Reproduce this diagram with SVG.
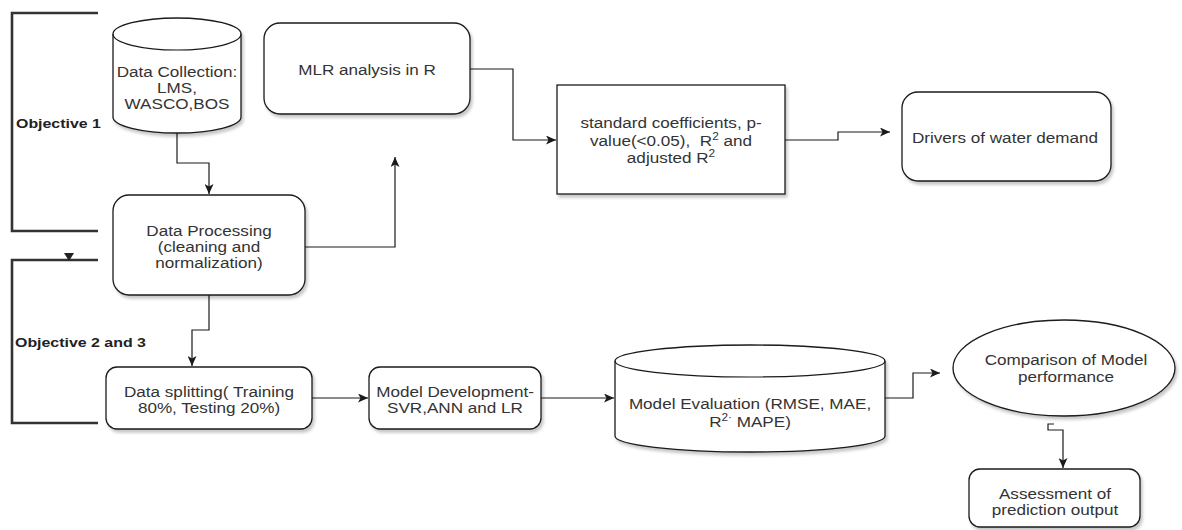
<svg xmlns="http://www.w3.org/2000/svg" width="1182" height="530" viewBox="0 0 1182 530">
<style>
  .shape { fill: #ffffff; stroke: #1a1a1a; stroke-width: 1.3; filter: url(#shadow); }
  .edge { fill: none; stroke: #1a1a1a; stroke-width: 1.2; }
  .bracket { fill: none; stroke: #333333; stroke-width: 2.6; }
  .lbl { font-family: "Liberation Sans", Arial, sans-serif; font-size: 14.5px; fill: #333333; text-anchor: middle; }
  .obj { font-family: "Liberation Sans", Arial, sans-serif; font-size: 13.5px; font-weight: bold; fill: #222222; }
  .sup { font-size: 10px; }
</style>
<defs>
  <filter id="shadow" x="-10%" y="-10%" width="130%" height="140%">
    <feDropShadow dx="2" dy="3" stdDeviation="1.5" flood-color="#000000" flood-opacity="0.22"/>
  </filter>
  <marker id="arrow" markerUnits="userSpaceOnUse" markerWidth="11" markerHeight="9" refX="10" refY="4.5" orient="auto">
    <path d="M0,0 L10,4.5 L0,9 L2.5,4.5 Z" fill="#1a1a1a"/>
  </marker>
</defs>
<rect width="1182" height="530" fill="#ffffff"/>

<g id="brackets">
  <path class="bracket" d="M98,13 H12 V231 H98"/>
  <path class="bracket" d="M98,260 H12 V423 H98"/>
  <polygon points="64,253 74,253 69,261" fill="#222222"/>
  <text class="obj" transform="translate(16,0) scale(1.18,1)"><tspan x="0" y="128">Objective 1</tspan></text>
  <text class="obj" transform="translate(15,0) scale(1.18,1)"><tspan x="0" y="347">Objective 2 and 3</tspan></text>
</g>

<g id="connectors">
  <path class="edge" d="M177,133 V163 H209 V194" marker-end="url(#arrow)"/>
  <path class="edge" d="M305,247 H395 V157" marker-end="url(#arrow)"/>
  <path class="edge" d="M470,69 H513 V140 H556" marker-end="url(#arrow)"/>
  <path class="edge" d="M785,140 H838 V132 H890" marker-end="url(#arrow)"/>
  <path class="edge" d="M209,295 V330 H192 V366" marker-end="url(#arrow)"/>
  <path class="edge" d="M312,398 H368" marker-end="url(#arrow)"/>
  <path class="edge" d="M541,398 H614" marker-end="url(#arrow)"/>
  <path class="edge" d="M885,398 H913 V373 H940" marker-end="url(#arrow)"/>
  <path class="edge" d="M1054,424 H1048 V430 H1063 V468" marker-end="url(#arrow)"/>
</g>

<g id="data-collection">
  <path class="shape" d="M113,34 A64,16 0 0,1 241,34 V117 A64,16 0 0,1 113,117 Z"/>
  <path class="edge" d="M113,34 A64,16 0 0,0 241,34"/>
  <text class="lbl" transform="translate(177,0) scale(1.18,1)"><tspan x="0" y="77">Data Collection:</tspan><tspan x="0" y="93">LMS,</tspan><tspan x="0" y="109">WASCO,BOS</tspan></text>
</g>

<g id="data-processing">
  <rect class="shape" x="113" y="195" width="192" height="100" rx="16" ry="16"/>
  <text class="lbl" transform="translate(209,0) scale(1.18,1)"><tspan x="0" y="236">Data Processing</tspan><tspan x="0" y="252">(cleaning and</tspan><tspan x="0" y="268">normalization)</tspan></text>
</g>

<g id="mlr-analysis">
  <rect class="shape" x="264" y="23" width="206" height="91" rx="16" ry="16"/>
  <text class="lbl" transform="translate(367,0) scale(1.18,1)"><tspan x="0" y="75">MLR analysis in R</tspan></text>
</g>

<g id="standard-coefficients">
  <rect class="shape" x="557" y="85" width="228" height="109"/>
  <text class="lbl" transform="translate(671,0) scale(1.18,1)"><tspan x="0" y="128">standard coefficients, p-</tspan><tspan x="0" y="146">value(&lt;0.05), &#160;R<tspan class="sup" dy="-6">2</tspan><tspan dy="6"> and</tspan></tspan><tspan x="0" y="163">adjusted R<tspan class="sup" dy="-6">2</tspan></tspan></text>
</g>

<g id="drivers">
  <rect class="shape" x="902" y="92" width="209" height="89" rx="16" ry="16"/>
  <text class="lbl" transform="translate(1005,0) scale(1.18,1)"><tspan x="0" y="143">Drivers of water demand</tspan></text>
</g>

<g id="data-splitting">
  <rect class="shape" x="106" y="367" width="206" height="62" rx="11" ry="11"/>
  <text class="lbl" transform="translate(209,0) scale(1.18,1)"><tspan x="0" y="397">Data splitting( Training</tspan><tspan x="0" y="413">80%, Testing 20%)</tspan></text>
</g>

<g id="model-development">
  <rect class="shape" x="369" y="367" width="172" height="62" rx="11" ry="11"/>
  <text class="lbl" transform="translate(455,0) scale(1.18,1)"><tspan x="0" y="397">Model Development-</tspan><tspan x="0" y="413">SVR,ANN and LR</tspan></text>
</g>

<g id="model-evaluation">
  <path class="shape" d="M615,361 A135,16 0 0,1 885,361 V436 A135,16 0 0,1 615,436 Z"/>
  <path class="edge" d="M615,361 A135,16 0 0,0 885,361"/>
  <text class="lbl" transform="translate(750,0) scale(1.18,1)"><tspan x="0" y="409">Model Evaluation (RMSE, MAE,</tspan><tspan x="0" y="427">R<tspan class="sup" dy="-6">2·</tspan><tspan dy="6"> MAPE)</tspan></tspan></text>
</g>

<g id="comparison">
  <ellipse class="shape" cx="1064" cy="368" rx="111" ry="48"/>
  <text class="lbl" transform="translate(1066,0) scale(1.18,1)"><tspan x="0" y="365">Comparison of Model</tspan><tspan x="0" y="382">performance</tspan></text>
</g>

<g id="assessment">
  <rect class="shape" x="969" y="469" width="171" height="58" rx="11" ry="11"/>
  <text class="lbl" transform="translate(1055,0) scale(1.18,1)"><tspan x="0" y="499">Assessment of</tspan><tspan x="0" y="515">prediction output</tspan></text>
</g>
</svg>
